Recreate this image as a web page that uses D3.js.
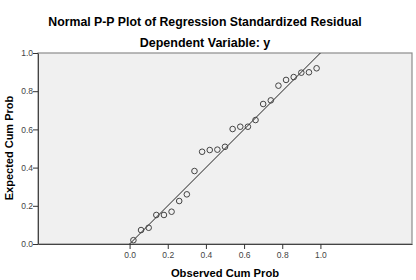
<!DOCTYPE html>
<html>
<head>
<meta charset="utf-8">
<script src="https://cdn.jsdelivr.net/npm/d3@7"></script>
<style>
body { margin: 0; background: #fff; }
svg { display: block; font-family: "Liberation Sans", Arial, sans-serif; }
</style>
</head>
<body>
<div id="chart"></div>
<script>
// observed vs expected cumulative probabilities
var observed = [0.02, 0.06, 0.10, 0.14, 0.18, 0.22, 0.26, 0.30, 0.34, 0.38, 0.42, 0.46, 0.50,
    0.54, 0.58, 0.62, 0.66, 0.70, 0.74, 0.78, 0.82, 0.86, 0.90, 0.94, 0.98]
var expected = [0.02, 0.073, 0.085, 0.152, 0.152, 0.169, 0.225, 0.26, 0.382, 0.483, 0.492, 0.494, 0.509,
    0.602, 0.614, 0.614, 0.649, 0.733, 0.752, 0.829, 0.859, 0.874, 0.897, 0.899, 0.92]
var xTicks = [0, 0.2, 0.4, 0.6, 0.8, 1.0]
var yTicks = [0, 0.2, 0.4, 0.6, 0.8, 1.0]
var refLine = [0, 1]

var W = 416, H = 280
var plot = {left: 38, top: 53, right: 412, bottom: 244}

var svg = d3.select("#chart").append("svg")
    .attr("width", W).attr("height", H)

var x = d3.scaleLinear().domain([-0.48, 1.48]).range([plot.left, plot.right])
var y = d3.scaleLinear().domain([0, 1]).range([plot.bottom, plot.top])

// titles
svg.append("text").attr("x", 205).attr("y", 26)
    .attr("text-anchor", "middle").style("font-size", "12.3px").style("font-weight", "bold")
    .text("Normal P-P Plot of Regression Standardized Residual")
svg.append("text").attr("x", 205).attr("y", 47)
    .attr("text-anchor", "middle").style("font-size", "12.5px").style("font-weight", "bold")
    .text("Dependent Variable: y")

// plot background
svg.append("rect")
    .attr("x", plot.left).attr("y", plot.top)
    .attr("width", plot.right - plot.left).attr("height", plot.bottom - plot.top)
    .style("fill", "#f0f0f0").style("stroke", "#8c8c8c").style("stroke-width", 1.2)

// axes
var yAxis = svg.append("g")
    .attr("transform", "translate(" + plot.left + ",0)")
    .call(d3.axisLeft(y).tickValues(yTicks).tickFormat(d3.format(".1f")).tickSize(5).tickSizeOuter(0))
var xAxis = svg.append("g")
    .attr("transform", "translate(0," + plot.bottom + ")")
    .call(d3.axisBottom(x).tickValues(xTicks).tickFormat(d3.format(".1f")).tickSize(5).tickSizeOuter(0))
svg.selectAll(".domain").style("stroke", "#444")
svg.selectAll(".tick line").style("stroke", "#333")
svg.selectAll(".tick text").style("font-family", "Liberation Sans, Arial, sans-serif")
    .style("font-size", "8.5px").style("fill", "#444")
yAxis.selectAll(".tick text").attr("x", -5)
xAxis.selectAll(".tick text").attr("y", 8)

// reference diagonal
svg.append("line")
    .attr("x1", x(refLine[0])).attr("y1", y(refLine[0]))
    .attr("x2", x(refLine[1])).attr("y2", y(refLine[1]))
    .style("stroke", "#222").style("stroke-width", 1)

// points
svg.append("g").selectAll("circle")
    .data(observed.map(function(d, i) { return [d, expected[i]] }))
    .join("circle")
    .attr("cx", function(d) { return x(d[0]) })
    .attr("cy", function(d) { return y(d[1]) })
    .attr("r", 2.8)
    .style("fill", "none").style("stroke", "#444").style("stroke-width", 1)

// axis titles
svg.append("text").attr("x", 225).attr("y", 277)
    .attr("text-anchor", "middle").style("font-size", "11.2px").style("font-weight", "bold")
    .text("Observed Cum Prob")
svg.append("text")
    .attr("transform", "translate(13,148) rotate(-90)")
    .attr("text-anchor", "middle").style("font-size", "11px").style("font-weight", "bold")
    .text("Expected Cum Prob")
</script>
</body>
</html>
